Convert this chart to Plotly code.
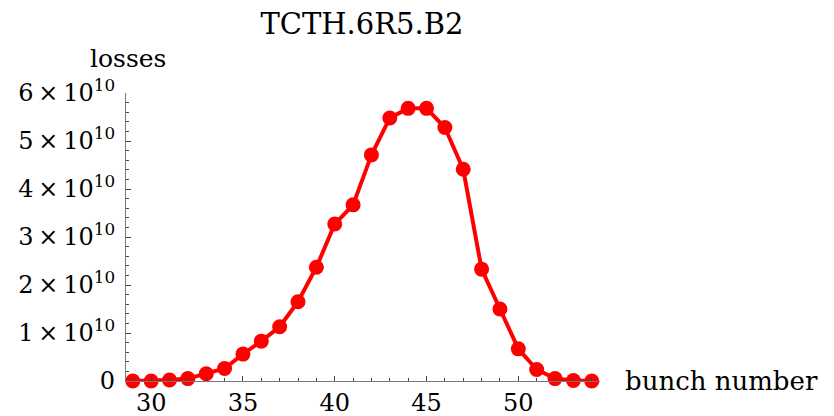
import plotly.graph_objects as go

bunch = [29, 30, 31, 32, 33, 34, 35, 36, 37, 38, 39, 40, 41, 42, 43, 44, 45, 46, 47, 48, 49, 50, 51, 52, 53, 54]
losses = [0.0, 0.0, 0.02e10, 0.05e10, 0.15e10, 0.26e10, 0.56e10, 0.83e10, 1.13e10, 1.65e10, 2.37e10,
          3.27e10, 3.67e10, 4.71e10, 5.48e10, 5.68e10, 5.68e10, 5.28e10, 4.41e10, 2.33e10, 1.50e10,
          0.67e10, 0.24e10, 0.05e10, 0.01e10, 0.0]

y_tickvals = [0, 1e10, 2e10, 3e10, 4e10, 5e10, 6e10]
y_ticktext = ["0", "1\u2009×\u200910<sup>10</sup>", "2\u2009×\u200910<sup>10</sup>",
              "3\u2009×\u200910<sup>10</sup>", "4\u2009×\u200910<sup>10</sup>",
              "5\u2009×\u200910<sup>10</sup>", "6\u2009×\u200910<sup>10</sup>"]
x_tickvals = [30, 35, 40, 45, 50]

title_text = "TCTH.6R5.B2"
y_label = "losses"
x_label = "bunch number"

FONT = "DejaVu Serif"
AXIS = "#777777"

fig = go.Figure()
fig.add_trace(go.Scatter(
    x=bunch, y=losses, mode="lines+markers",
    line=dict(color="#ff0000", width=4),
    marker=dict(color="#ff0000", size=15),
    cliponaxis=False, showlegend=False,
))

fig.update_layout(
    width=834, height=416,
    margin=dict(l=126, r=234, t=93, b=35, autoexpand=False),
    paper_bgcolor="white", plot_bgcolor="white",
    font=dict(family=FONT, size=24, color="black"),
    title=dict(text=title_text, x=362 / 834, xanchor="center", y=1 - 24 / 416, yanchor="middle",
               font=dict(family=FONT, size=29, color="black")),
    annotations=[
        dict(text=y_label, xref="paper", yref="paper", x=-38 / 474, y=1 + 34 / 288,
             xanchor="left", yanchor="middle", showarrow=False, font=dict(family=FONT, size=25)),
        dict(text=x_label, xref="paper", yref="paper", x=1 + 23 / 474, y=0,
             xanchor="left", yanchor="middle", showarrow=False, font=dict(family=FONT, size=26)),
    ],
)

fig.update_xaxes(
    range=[28.63, 54.45], showgrid=False, zeroline=False, automargin=False,
    showline=True, linecolor=AXIS, linewidth=1.2,
    tickmode="array", tickvals=x_tickvals, ticks="inside", ticklen=5, tickcolor="#444444",
    tickfont=dict(family=FONT, size=24, color="black"),
    minor=dict(dtick=1, tick0=0, ticks="inside", ticklen=3, tickcolor="#444444", showgrid=False),
)
fig.update_yaxes(
    range=[0, 6e10], showgrid=False, zeroline=False, automargin=False,
    showline=True, linecolor=AXIS, linewidth=1.2,
    tickmode="array", tickvals=y_tickvals, ticktext=y_ticktext,
    ticks="inside", ticklen=5, tickcolor="#444444", ticklabelstandoff=5,
    tickfont=dict(family=FONT, size=24, color="black"),
    minor=dict(dtick=0.2e10, tick0=0, ticks="inside", ticklen=3, tickcolor="#444444", showgrid=False),
)

fig.write_html("out.html", config={"displayModeBar": False},
               post_script="document.body.style.margin='0';")
